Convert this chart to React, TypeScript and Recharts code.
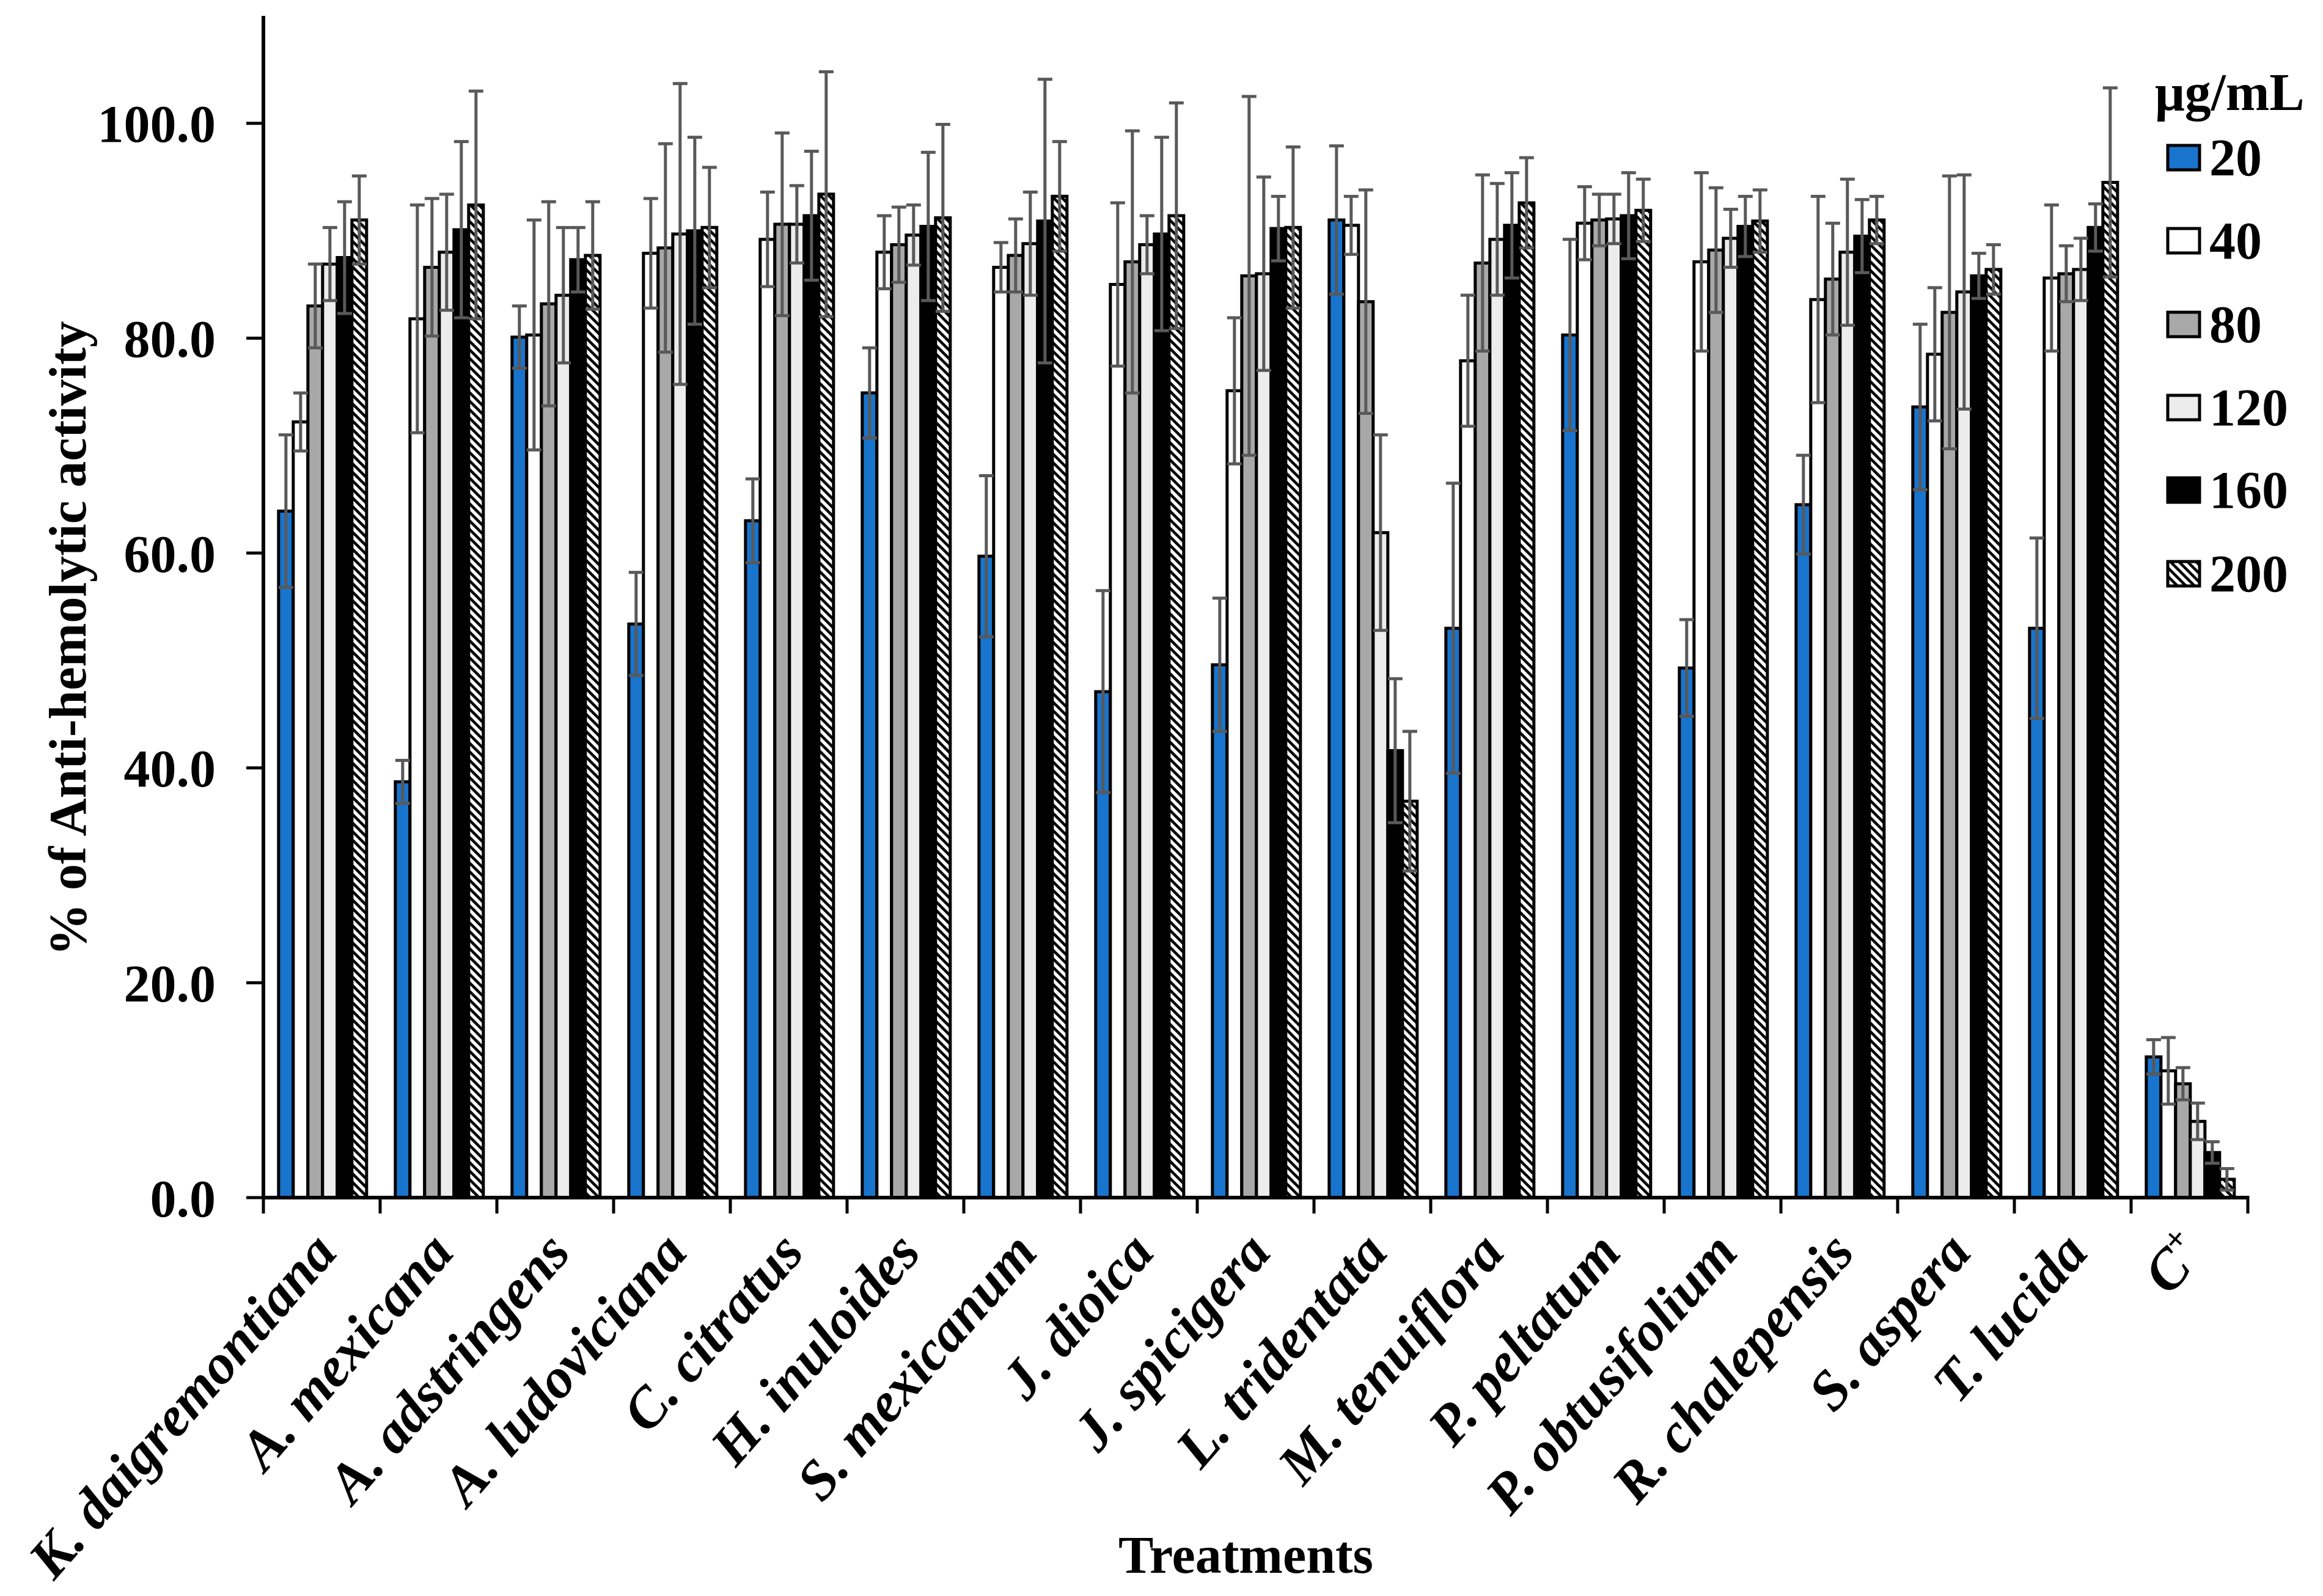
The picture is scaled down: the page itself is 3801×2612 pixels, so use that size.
import React from "react";
import { BarChart, Bar, XAxis, YAxis, ErrorBar } from "recharts";

const treatments = [
  "K. daigremontiana",
  "A. mexicana",
  "A. adstringens",
  "A. ludoviciana",
  "C. citratus",
  "H. inuloides",
  "S. mexicanum",
  "J. dioica",
  "J. spicigera",
  "L. tridentata",
  "M. tenuiflora",
  "P. peltatum",
  "P. obtusifolium",
  "R. chalepensis",
  "S. aspera",
  "T. lucida",
  "C+",
];

const concentrations = ["20", "40", "80", "120", "160", "200"];

// means (% anti-hemolytic activity) per concentration
const mean20 = [63.9, 38.7, 80.1, 53.4, 63.0, 74.9, 59.7, 47.1, 49.6, 91.0, 53.0, 80.3, 49.3, 64.5, 73.6, 53.0, 13.1];
const mean40 = [72.2, 81.8, 80.3, 87.9, 89.2, 88.0, 86.6, 85.0, 75.1, 90.5, 77.9, 90.7, 87.1, 83.6, 78.5, 85.6, 11.8];
const mean80 = [83.0, 86.6, 83.2, 88.4, 90.6, 88.7, 87.7, 87.1, 85.8, 83.4, 87.0, 91.0, 88.2, 85.5, 82.4, 86.0, 10.6];
const mean120 = [86.9, 88.0, 84.0, 89.7, 90.6, 89.6, 88.8, 88.7, 86.0, 61.9, 89.2, 91.1, 89.3, 88.0, 84.3, 86.4, 7.1];
const mean160 = [87.5, 90.1, 87.3, 90.0, 91.4, 90.4, 90.9, 89.7, 90.2, 41.6, 90.5, 91.4, 90.4, 89.5, 85.8, 90.3, 4.2];
const mean200 = [91.0, 92.4, 87.7, 90.3, 93.4, 91.2, 93.2, 91.4, 90.3, 36.9, 92.6, 91.9, 90.9, 91.0, 86.4, 94.5, 1.7];

// standard deviations
const sd20 = [7.1, 2.0, 2.9, 4.8, 3.9, 4.2, 7.5, 9.4, 6.2, 6.9, 13.5, 8.9, 4.5, 4.6, 7.7, 8.4, 1.6];
const sd40 = [2.7, 10.6, 10.7, 5.1, 4.4, 3.4, 2.3, 7.6, 6.8, 2.7, 6.1, 3.4, 8.3, 9.6, 6.2, 6.8, 3.1];
const sd80 = [3.9, 6.4, 9.5, 9.7, 8.5, 3.5, 3.4, 12.2, 16.7, 10.4, 8.2, 2.4, 5.8, 5.2, 12.7, 2.6, 1.5];
const sd120 = [3.4, 5.4, 6.3, 14.0, 3.6, 2.8, 4.8, 2.7, 9.0, 9.1, 5.2, 2.3, 2.7, 6.8, 10.9, 2.9, 1.7];
const sd160 = [5.2, 8.2, 3.0, 8.7, 6.0, 6.9, 13.2, 9.0, 3.0, 6.7, 4.9, 4.0, 2.8, 3.4, 2.1, 2.2, 1.0];
const sd200 = [4.1, 10.6, 5.0, 5.6, 11.4, 8.7, 5.1, 10.5, 7.5, 6.5, 4.2, 2.9, 2.9, 2.2, 2.3, 8.8, 1.0];

const yTicks = [0, 20, 40, 60, 80, 100];

const means = [mean20, mean40, mean80, mean120, mean160, mean200];
const sds = [sd20, sd40, sd80, sd120, sd160, sd200];
const fills = ["#1874cd", "#ffffff", "#a8a8a8", "#ececec", "#000000", "url(#hatch200)"];

const data = treatments.map((name, i) => {
  const row: Record<string, string | number> = { name };
  concentrations.forEach((c, k) => {
    row["m" + c] = means[k][i];
    row["e" + c] = sds[k][i];
  });
  return row;
});

const W = 3801;
const H = 2612;
const MARGIN = { top: 26, right: 123, bottom: 0, left: 0 };
const Y_AXIS_W = 431;
const X_AXIS_H = 652;
const STEP = (W - MARGIN.right - Y_AXIS_W) / treatments.length;
const FONT = "'Liberation Serif', 'Times New Roman', serif";

function HatchDefs() {
  return (
    <defs>
      <pattern id="hatch200" patternUnits="userSpaceOnUse" width="14" height="14">
        <rect width="14" height="14" fill="#fff" />
        <path d="M-3.5,10.5 L3.5,17.5 M0,0 L14,14 M10.5,-3.5 L17.5,3.5" stroke="#000" strokeWidth="4.5" />
      </pattern>
    </defs>
  );
}

function TreatmentTick(props: any) {
  const { x, y, payload, index } = props;
  const label = String(payload.value);
  const lx = x + 28;
  const ly = y + 92;
  const last = index === treatments.length - 1;
  return (
    <g>
      <line x1={x - STEP / 2} y1={y} x2={x - STEP / 2} y2={y + 26} stroke="#000" strokeWidth={5} />
      {last && <line x1={x + STEP / 2} y1={y - 3} x2={x + STEP / 2} y2={y + 26} stroke="#000" strokeWidth={5} />}
      <text
        x={lx}
        y={ly}
        textAnchor="end"
        transform={`rotate(-49 ${lx} ${ly})`}
        fontFamily={FONT}
        fontSize={92}
        fontWeight="bold"
        fontStyle="italic"
        fill="#000"
      >
        {label === "C+" ? (
          <>
            C<tspan dy={-36} fontSize={56}>+</tspan>
          </>
        ) : (
          label
        )}
      </text>
    </g>
  );
}

function Legend() {
  const rowY = [258, 394, 531, 667, 802, 939];
  return (
    <svg width={W} height={H} style={{ position: "absolute", left: 0, top: 0, pointerEvents: "none" }}>
      <HatchDefs />
      <text x={3526} y={180} fontFamily={FONT} fontSize={86} fontWeight="bold" fill="#000">
        μg/mL
      </text>
      {concentrations.map((c, k) => (
        <g key={c}>
          <rect x={3547} y={rowY[k] - 20} width={52} height={40} fill={fills[k]} stroke="#000" strokeWidth={5} />
          <text x={3615} y={rowY[k] + 29} fontFamily={FONT} fontSize={86} fontWeight="bold" fill="#000">
            {c}
          </text>
        </g>
      ))}
    </svg>
  );
}

export default function App() {
  return (
    <div style={{ position: "absolute", left: 0, top: 0, width: W, height: H, background: "#fff" }}>
      <BarChart width={W} height={H} data={data} margin={MARGIN} barCategoryGap="13%" barGap={0}>
        <HatchDefs />
        <XAxis
          dataKey="name"
          height={X_AXIS_H}
          interval={0}
          tickLine={false}
          tickSize={0}
          tickMargin={0}
          axisLine={{ stroke: "#000", strokeWidth: 6 }}
          tick={<TreatmentTick />}
          label={{
            content: (p: any) => (
              <text
                x={p.viewBox.x + p.viewBox.width / 2 - 16}
                y={p.viewBox.y + p.viewBox.height - 38}
                textAnchor="middle"
                fontFamily={FONT}
                fontSize={86}
                fontWeight="bold"
                fill="#000"
              >
                Treatments
              </text>
            ),
          }}
        />
        <YAxis
          width={Y_AXIS_W}
          domain={[0, 110]}
          ticks={yTicks}
          allowDataOverflow
          tickFormatter={(v: number) => v.toFixed(1)}
          axisLine={{ stroke: "#000", strokeWidth: 6 }}
          tickLine={{ stroke: "#000", strokeWidth: 5 }}
          tickSize={28}
          tickMargin={50}
          tick={{ fill: "#000", fontSize: 86, fontWeight: "bold", fontFamily: FONT }}
          label={{
            content: () => (
              <text
                x={140}
                y={1045}
                textAnchor="middle"
                transform="rotate(-90 140 1045)"
                fontFamily={FONT}
                fontSize={86}
                fontWeight="bold"
                fill="#000"
              >
                % of Anti-hemolytic activity
              </text>
            ),
          }}
        />
        {concentrations.map((c, k) => (
          <Bar
            key={c}
            dataKey={"m" + c}
            name={c}
            fill={fills[k]}
            stroke="#000"
            strokeWidth={5}
            isAnimationActive={false}
          >
            <ErrorBar dataKey={"e" + c} width={12} stroke="#595959" strokeWidth={5} isAnimationActive={false} />
          </Bar>
        ))}
      </BarChart>
      <Legend />
    </div>
  );
}
